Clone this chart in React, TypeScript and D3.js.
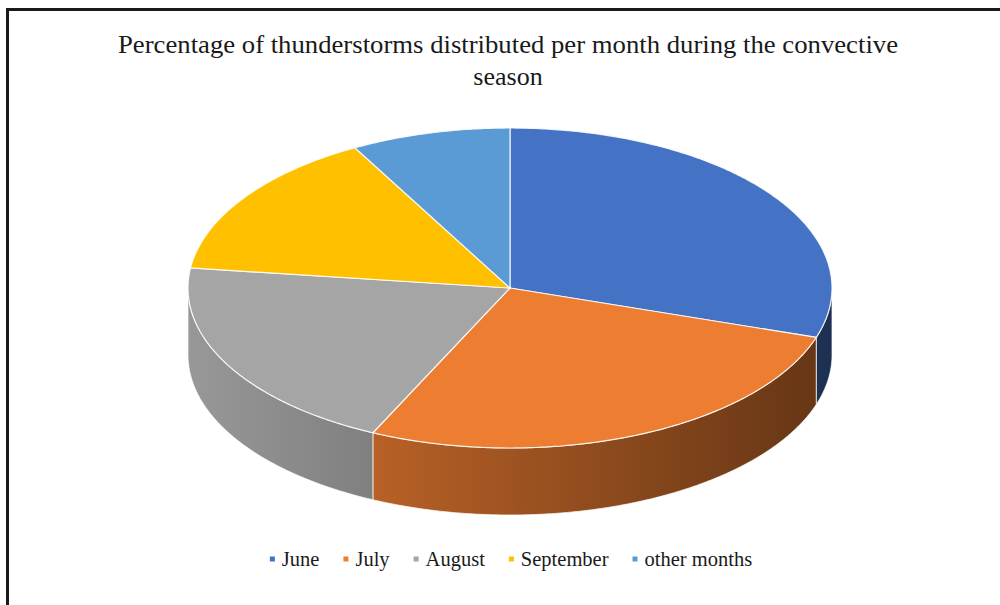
import React, { useEffect, useRef } from "react";
import * as d3 from "d3";

const categories = ["June", "July", "August", "September", "other months"];
const values = [30, 27, 20, 15, 8];
const topColors = ["#4472C4", "#ED7D31", "#A5A5A5", "#FFC000", "#5B9BD5"];
const titleLines = [
  "Percentage of thunderstorms distributed per month during the convective",
  "season",
];

export default function App() {
  const ref = useRef<SVGSVGElement>(null);

  useEffect(() => {
    const svg = d3.select(ref.current as SVGSVGElement);
    svg.selectAll("*").remove();

    const W = 1000, H = 605;
    const cx = 510, cy = 288, rx = 322, ry = 160, depth = 67;

    svg.append("rect").attr("width", W).attr("height", H).attr("fill", "#fff");

    // frame (only top and left edges visible)
    svg.append("rect")
      .attr("x", 7.5).attr("y", 9.5)
      .attr("width", 1100).attr("height", 700)
      .attr("fill", "none").attr("stroke", "#1a1a1a").attr("stroke-width", 3);

    // title
    const title = svg.append("g").attr("font-family", "'Liberation Serif', 'Times New Roman', serif")
      .attr("font-size", 26).attr("fill", "#1a1a1a").attr("text-anchor", "middle");
    title.append("text").attr("x", 508).attr("y", 53)
      .attr("textLength", 780).attr("lengthAdjust", "spacingAndGlyphs")
      .text(titleLines[0]);
    title.append("text").attr("x", 508).attr("y", 85).text(titleLines[1]);

    const pie = d3.pie<number>().sort(null).startAngle(0).endAngle(2 * Math.PI).value((d) => d);
    const arcs = pie(values);

    const px = (t: number) => cx + rx * Math.sin(t);
    const py = (t: number) => cy - ry * Math.cos(t);

    const arcPts = (a0: number, a1: number, dy = 0) => {
      const n = Math.max(2, Math.ceil(Math.abs(a1 - a0) / 0.01));
      const pts: [number, number][] = [];
      for (let i = 0; i <= n; i++) {
        const t = a0 + ((a1 - a0) * i) / n;
        pts.push([px(t), py(t) + dy]);
      }
      return pts;
    };

    const defs = svg.append("defs");
    const shade = (c: string, f: number) => {
      const r = d3.rgb(c);
      return d3.rgb(r.r * f, r.g * f, r.b * f).formatHex();
    };
    topColors.forEach((c, i) => {
      const g = defs.append("linearGradient").attr("id", "side" + i)
        .attr("gradientUnits", "userSpaceOnUse")
        .attr("x1", cx - rx).attr("x2", cx + rx).attr("y1", 0).attr("y2", 0);
      [0, 0.25, 0.5, 0.75, 1].forEach((fr) => {
        g.append("stop").attr("offset", fr).attr("stop-color", shade(c, 0.92 - 0.5 * fr));
      });
    });

    const line = d3.line();

    // sides (front half only)
    const sides = svg.append("g");
    arcs.forEach((a, i) => {
      const s = Math.max(a.startAngle, Math.PI / 2);
      const e = Math.min(a.endAngle, (3 * Math.PI) / 2);
      if (e <= s) return;
      const top = arcPts(s, e);
      const bot = arcPts(e, s, depth);
      sides.append("path")
        .attr("d", line([...top, ...bot]) + "Z")
        .attr("fill", `url(#side${i})`)
        .attr("stroke", "#ffffff").attr("stroke-opacity", 0.7).attr("stroke-width", 1);
    });

    // tops
    const tops = svg.append("g");
    arcs.forEach((a, i) => {
      const pts: [number, number][] = [[cx, cy], ...arcPts(a.startAngle, a.endAngle)];
      tops.append("path")
        .attr("d", line(pts) + "Z")
        .attr("fill", topColors[i])
        .attr("stroke", "#ffffff").attr("stroke-opacity", 0.85).attr("stroke-width", 1.2)
        .attr("stroke-linejoin", "round");
    });

    // legend
    const leg = svg.append("g").attr("font-family", "'Liberation Serif', 'Times New Roman', serif")
      .attr("font-size", 20.5).attr("fill", "#1a1a1a");
    const items = categories.map((name, i) => {
      const g = leg.append("g");
      g.append("rect").attr("x", 0).attr("y", -2.5).attr("width", 5).attr("height", 5).attr("fill", topColors[i]);
      const t = g.append("text").attr("x", 12).attr("y", 6.5).text(name);
      const w = (t.node() as SVGTextElement).getComputedTextLength();
      return { g, w: 12 + w };
    });
    const gap = 24;
    const total = d3.sum(items, (d) => d.w) + gap * (items.length - 1);
    let x = 511 - total / 2;
    items.forEach((it) => {
      it.g.attr("transform", `translate(${x},559)`);
      x += it.w + gap;
    });
  }, []);

  return (
    <svg
      ref={ref}
      width={1000}
      height={605}
      style={{ position: "absolute", left: 0, top: 0, display: "block" }}
    />
  );
}
